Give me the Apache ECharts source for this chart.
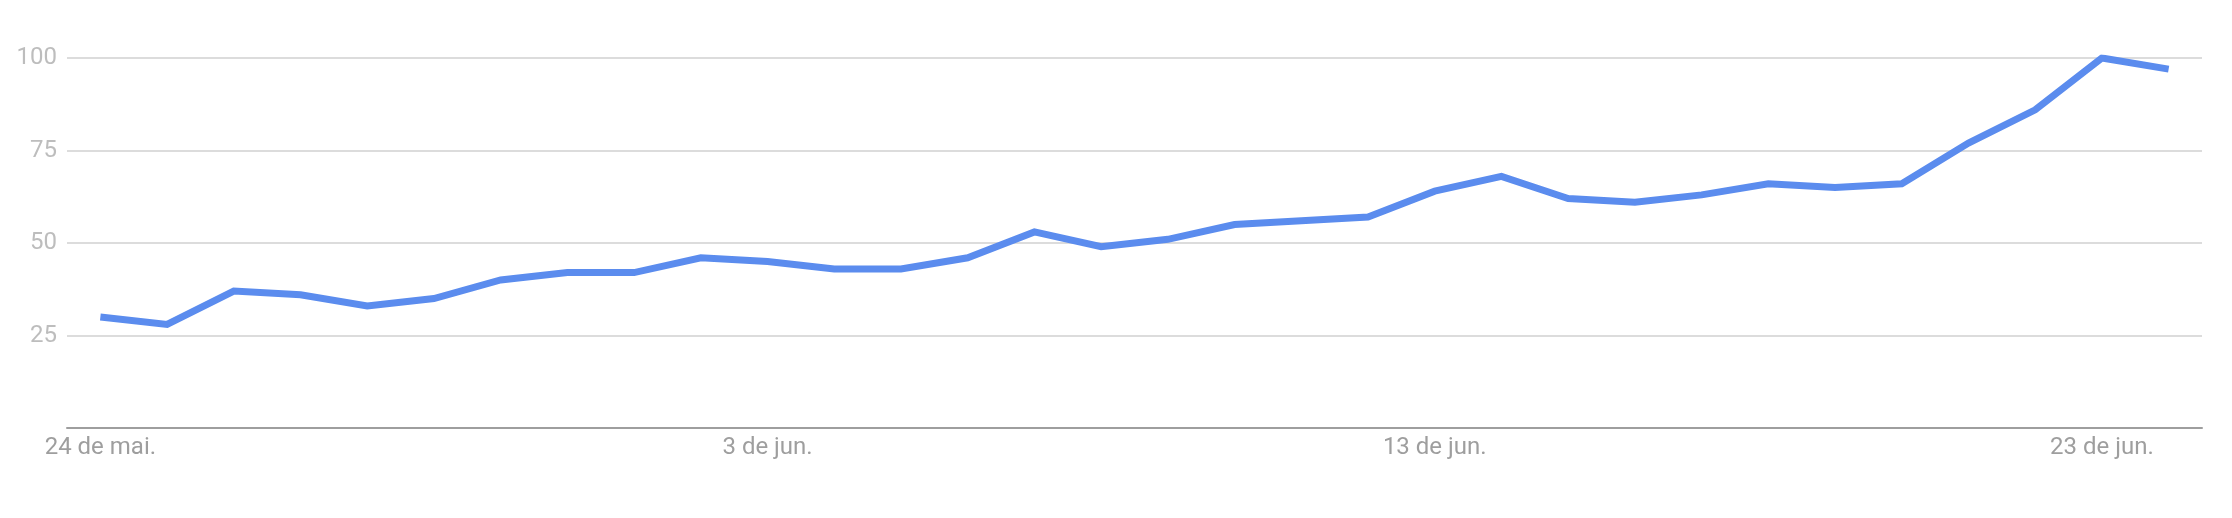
<!DOCTYPE html>
<html>
<head>
<meta charset="utf-8">
<script src="https://cdn.jsdelivr.net/npm/echarts@6/dist/echarts.min.js"></script>
<style>
html,body{margin:0;padding:0;background:#fff;}
#chart{width:2232px;height:518px;}
</style>
</head>
<body>
<div id="chart"></div>
<script>
const categories = [
  "24 de mai.","25 de mai.","26 de mai.","27 de mai.","28 de mai.","29 de mai.","30 de mai.","31 de mai.",
  "1 de jun.","2 de jun.","3 de jun.","4 de jun.","5 de jun.","6 de jun.","7 de jun.","8 de jun.",
  "9 de jun.","10 de jun.","11 de jun.","12 de jun.","13 de jun.","14 de jun.","15 de jun.","16 de jun.",
  "17 de jun.","18 de jun.","19 de jun.","20 de jun.","21 de jun.","22 de jun.","23 de jun.","24 de jun."
];
const values = [
  30, 28, 37, 36, 33, 35, 40, 42, 42, 46, 45, 43, 43, 46, 53, 49,
  51, 55, 56, 57, 64, 68, 62, 61, 63, 66, 65, 66, 77, 86, 100, 97
];
const labelIndices = [0, 10, 20, 30];
const yTicks = [25, 50, 75, 100];

const chart = echarts.init(document.getElementById('chart'), null, {renderer: 'canvas'});
chart.setOption({
  animation: false,
  backgroundColor: '#ffffff',
  grid: {left: 67, right: 30, top: 58, bottom: 90, containLabel: false},
  xAxis: {
    type: 'category',
    data: categories,
    boundaryGap: true,
    axisLine: {show: true, lineStyle: {color: '#9e9e9e', width: 2}},
    axisTick: {show: false},
    splitLine: {show: false},
    axisLabel: {
      interval: function (idx) { return labelIndices.indexOf(idx) >= 0; },
      color: '#9e9e9e',
      fontFamily: 'Roboto',
      fontSize: 24,
      margin: 8
    }
  },
  yAxis: {
    type: 'value',
    min: 0,
    max: 100,
    interval: 25,
    axisLine: {show: false},
    axisTick: {show: false},
    splitLine: {show: true, lineStyle: {color: '#dcdcdc', width: 2}},
    axisLabel: {
      color: '#bdbdbd',
      fontFamily: 'Roboto',
      fontSize: 24,
      margin: 10,
      formatter: function (v) { return yTicks.indexOf(v) >= 0 ? String(v) : ''; }
    }
  },
  series: [{
    type: 'line',
    data: values,
    symbol: 'none',
    lineStyle: {color: '#5b8cee', width: 7, cap: 'butt', join: 'miter'},
    z: 3
  }]
});
</script>
</body>
</html>
